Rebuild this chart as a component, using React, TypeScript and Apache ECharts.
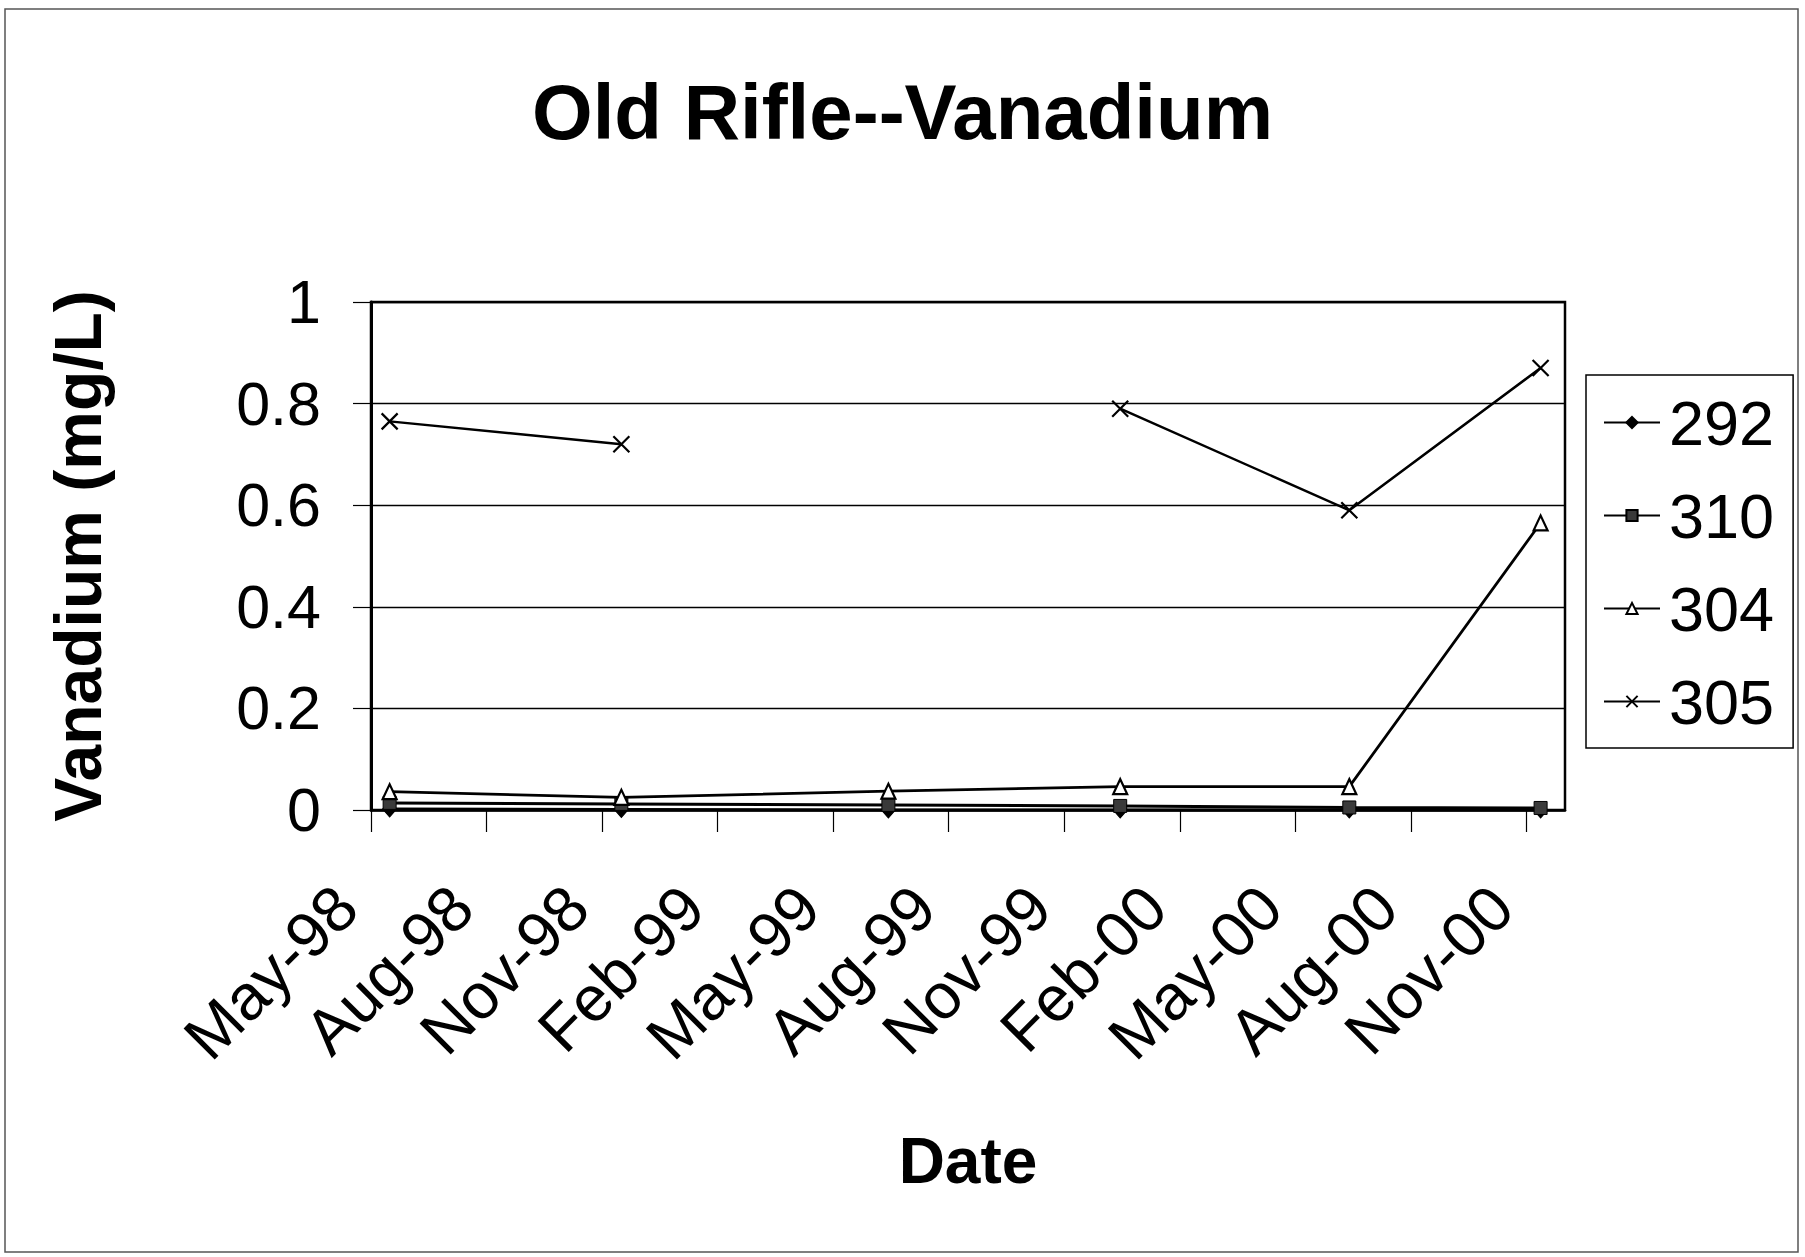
import React, { useEffect, useRef } from "react";
import * as echarts from "echarts";

// ---- data ----
const sampleDates = ["1998-05-16", "1998-11-16", "1999-06-14", "1999-12-15", "2000-06-13", "2000-11-12"];
const well292 = [0.002, 0.001, 0.0, 0.0, 0.0, 0.0];
const well310 = [0.014, 0.012, 0.01, 0.008, 0.005, 0.004];
const well304 = [0.036, 0.025, 0.037, 0.046, 0.046, 0.565];
const well305 = [0.765, 0.72, null, 0.79, 0.59, 0.87];
const tickLabels = ["May-98", "Aug-98", "Nov-98", "Feb-99", "May-99", "Aug-99", "Nov-99", "Feb-00", "May-00", "Aug-00", "Nov-00"];
const yTicks = [0, 0.2, 0.4, 0.6, 0.8, 1];

const FONT = "'Liberation Sans', Arial, Helvetica, sans-serif";

// months since 1 May 1998
const monthOffset = (s: string) => {
  const [y, m, d] = s.split("-").map(Number);
  const dim = new Date(y, m, 0).getDate();
  return (y - 1998) * 12 + (m - 5) + (d - 1) / dim;
};
const tickValues = tickLabels.map((_, i) => i * 3);

const toData = (vals: (number | null)[]) =>
  sampleDates.map((d, i) => [monthOffset(d), vals[i] === null ? "-" : vals[i]]);

export default function App() {
  const ref = useRef<HTMLDivElement>(null);
  useEffect(() => {
    if (!ref.current) return;
    const chart = echarts.init(ref.current, null, { renderer: "svg" });
    const xPath = "path://M0,0L10,10M10,0L0,10";
    chart.setOption({
      animation: false,
      backgroundColor: "#ffffff",
      title: {
        text: "Old Rifle--Vanadium",
        left: "center",
        top: 68,
        textStyle: { fontFamily: FONT, fontSize: 78, fontWeight: "bold", color: "#000" },
      },
      graphic: [
        {
          type: "rect",
          shape: { x: 5, y: 9, width: 1793, height: 1243 },
          style: { fill: "none", stroke: "#555", lineWidth: 1.5 },
          silent: true,
          z: -10,
        },
      ],
      legend: {
        orient: "vertical",
        left: 1586,
        top: 375,
        padding: [16, 19, 15, 17],
        itemGap: 30,
        itemWidth: 56,
        itemHeight: 14,
        borderColor: "#000",
        borderWidth: 1.5,
        borderRadius: 0,
        textStyle: { fontFamily: FONT, fontSize: 63, lineHeight: 63, color: "#000", padding: [0, 0, 0, 4] },
        data: [
          { name: "292" },
          { name: "310" },
          { name: "304" },
          { name: "305", itemStyle: { color: "#000", borderColor: "#000", borderWidth: 2 } },
        ],
      },
      grid: {
        left: 371,
        top: 302,
        right: 240,
        bottom: 447,
        show: true,
        borderColor: "#000",
        borderWidth: 2.5,
        containLabel: false,
      },
      xAxis: {
        type: "value",
        min: 0,
        max: 31,
        interval: 3,
        name: "Date",
        nameLocation: "middle",
        nameGap: 319,
        nameTextStyle: { fontFamily: FONT, fontSize: 64, fontWeight: "bold", color: "#000" },
        axisLine: { show: true, lineStyle: { color: "#000", width: 2.5 } },
        axisTick: { show: true, length: 22, customValues: tickValues, lineStyle: { color: "#000", width: 1.2 } },
        splitLine: { show: false },
        axisLabel: {
          customValues: tickValues,
          rotate: 45,
          margin: 62,
          padding: [0, 35, 0, 0],
          fontFamily: FONT,
          fontSize: 64,
          color: "#000",
          formatter: (v: number) => tickLabels[Math.round(v / 3)] ?? "",
        },
      },
      yAxis: {
        type: "value",
        min: 0,
        max: 1,
        interval: 0.2,
        name: "Vanadium (mg/L)",
        nameLocation: "middle",
        nameRotate: 90,
        nameGap: 260,
        nameTextStyle: { fontFamily: FONT, fontSize: 66, fontWeight: "bold", color: "#000" },
        axisLine: { show: true, lineStyle: { color: "#000", width: 3 } },
        axisTick: { show: true, length: 18, lineStyle: { color: "#000", width: 1.2 } },
        splitLine: { show: true, lineStyle: { color: "#000", width: 1.3 } },
        axisLabel: {
          margin: 50,
          fontFamily: FONT,
          fontSize: 61,
          color: "#000",
          formatter: (v: number) => {
            const t = yTicks.find((k) => Math.abs(k - v) < 1e-9);
            return t === undefined ? "" : String(t);
          },
        },
      },
      series: [
        {
          name: "292",
          type: "line",
          data: toData(well292),
          symbol: "diamond",
          symbolSize: [14, 16],
          lineStyle: { color: "#000", width: 3 },
          itemStyle: { color: "#000", borderColor: "#000", borderWidth: 1 },
          z: 2,
        },
        {
          name: "310",
          type: "line",
          data: toData(well310),
          symbol: "rect",
          symbolSize: 13,
          lineStyle: { color: "#000", width: 3 },
          itemStyle: { color: "#3a3a3a", borderColor: "#000", borderWidth: 1 },
          z: 3,
        },
        {
          name: "304",
          type: "line",
          data: toData(well304),
          symbol: "triangle",
          symbolSize: [14, 15],
          lineStyle: { color: "#000", width: 2.8 },
          itemStyle: { color: "#fff", borderColor: "#000", borderWidth: 2.2 },
          z: 4,
        },
        {
          name: "305",
          type: "line",
          data: toData(well305),
          connectNulls: false,
          symbol: xPath,
          symbolSize: 16,
          lineStyle: { color: "#000", width: 2.5 },
          itemStyle: { color: "#000", borderColor: "#000", borderWidth: 2.2 },
          z: 5,
        },
      ],
    });
    return () => chart.dispose();
  }, []);
  return (
    <div
      ref={ref}
      style={{ position: "absolute", left: 0, top: 0, width: 1805, height: 1257, background: "#fff" }}
    />
  );
}
